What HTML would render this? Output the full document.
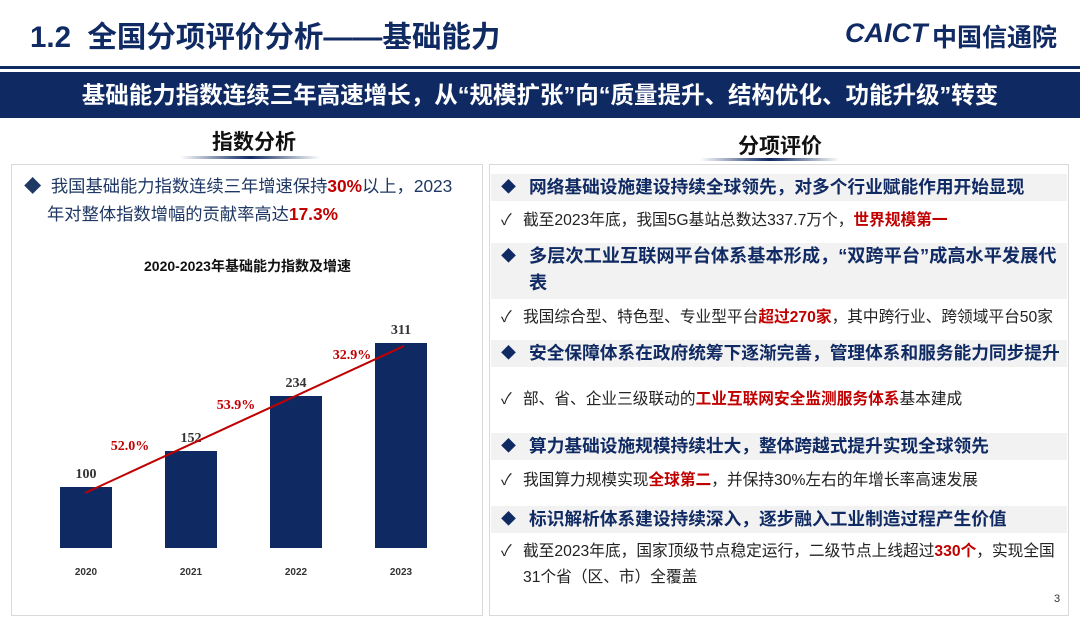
<!DOCTYPE html>
<html><head><meta charset="utf-8"><style>
*{margin:0;padding:0;box-sizing:border-box}
body{width:1080px;height:625px;background:#fff;position:relative;overflow:hidden;font-family:"Liberation Sans","Noto Sans CJK SC",sans-serif;color:#1f2d5a}
.a{position:absolute;white-space:nowrap}
.r{color:#c00000;font-weight:bold}
.h{position:absolute;left:491px;width:576px;background:#f2f2f2;font-weight:bold;font-size:17.7px;color:#102a63;padding-left:38px;line-height:27px;white-space:nowrap;overflow:hidden}
.h:before{content:"◆";position:absolute;left:10px;top:0;font-size:15px}
.c{position:absolute;left:491px;width:576px;font-size:15.7px;color:#222;padding-left:32px;line-height:26px;white-space:nowrap}
.c:before{content:"✓";position:absolute;left:10px;top:0}
</style></head><body>
<div class="a" style="left:30px;top:14px;font-size:29.5px;font-weight:bold;color:#102a63">1.2&nbsp; 全国分项评价分析——基础能力</div>
<div class="a" style="left:845px;top:18px;font-size:27px;font-weight:bold;font-style:italic;color:#102a63">CAICT</div>
<div class="a" style="left:932px;top:18px;font-size:25px;font-weight:bold;color:#102a63">中国信通院</div>
<div class="a" style="left:0;top:66px;width:1080px;height:3px;background:#102a63"></div>
<div class="a" style="left:0;top:72px;width:1080px;height:46px;background:#0f2a63;color:#fff;font-size:23.5px;font-weight:bold;text-align:center;line-height:46px">基础能力指数连续三年高速增长，从“规模扩张”向“质量提升、结构优化、功能升级”转变</div>
<div class="a" style="left:212px;top:126px;font-size:21px;font-weight:bold;color:#111">指数分析</div>
<div class="a" style="left:180px;top:156px;width:140px;height:3px;background:linear-gradient(90deg,#fff,#102a63,#fff)"></div>
<div class="a" style="left:738px;top:130px;font-size:21px;font-weight:bold;color:#111">分项评价</div>
<div class="a" style="left:700px;top:158px;width:140px;height:3px;background:linear-gradient(90deg,#fff,#102a63,#fff)"></div>
<div class="a" style="left:11px;top:164px;width:472px;height:452px;border:1px solid #d9d9d9"></div>
<div class="a" style="left:489px;top:164px;width:580px;height:452px;border:1px solid #d9d9d9"></div>
<div class="a" style="left:24px;top:172px;font-size:17.3px;line-height:28px;color:#1f3864;white-space:nowrap">◆&nbsp; 我国基础能力指数连续三年增速保持<span class="r">30%</span>以上，2023<br><span style="padding-left:23px">年对整体指数增幅的贡献率高达<span class="r">17.3%</span></span></div>
<div class="a" style="left:0;width:495px;top:256px;text-align:center;font-size:14px;font-weight:bold;color:#111">2020-2023年基础能力指数及增速</div>
<svg class="a" style="left:0;top:0" width="495" height="625">
<g fill="#0f2a63"><rect x="60" y="487" width="52" height="61"/><rect x="165" y="451" width="52" height="97"/><rect x="270" y="396" width="52" height="152"/><rect x="375" y="343" width="52" height="205"/></g>
<g font-family="Liberation Serif" font-size="14" font-weight="bold" fill="#333" text-anchor="middle"><text x="86" y="478">100</text><text x="191" y="442">152</text><text x="296" y="387">234</text><text x="401" y="334">311</text></g>
<g font-family="Liberation Serif" font-size="14" font-weight="bold" fill="#c00000" text-anchor="middle"><text x="130" y="450">52.0%</text><text x="236" y="409">53.9%</text><text x="352" y="359">32.9%</text></g>
<line x1="85" y1="493" x2="404" y2="346" stroke="#c00000" stroke-width="2"/>
<g font-size="10" font-weight="bold" fill="#333" text-anchor="middle"><text x="86" y="575">2020</text><text x="191" y="575">2021</text><text x="296" y="575">2022</text><text x="401" y="575">2023</text></g>
</svg>
<div class="h" style="top:174px">网络基础设施建设持续全球领先，对多个行业赋能作用开始显现</div>
<div class="c" style="top:208px">截至2023年底，我国5G基站总数达337.7万个，<span class="r">世界规模第一</span></div>
<div class="h" style="top:243px;height:56px;font-size:18.2px">多层次工业互联网平台体系基本形成，“双跨平台”成高水平发展代<br>表</div>
<div class="c" style="top:305px">我国综合型、特色型、专业型平台<span class="r">超过270家</span>，其中跨行业、跨领域平台50家</div>
<div class="h" style="top:340px">安全保障体系在政府统筹下逐渐完善，管理体系和服务能力同步提升</div>
<div class="c" style="top:387px">部、省、企业三级联动的<span class="r">工业互联网安全监测服务体系</span>基本建成</div>
<div class="h" style="top:433px">算力基础设施规模持续壮大，整体跨越式提升实现全球领先</div>
<div class="c" style="top:468px">我国算力规模实现<span class="r">全球第二</span>，并保持30%左右的年增长率高速发展</div>
<div class="h" style="top:506px">标识解析体系建设持续深入，逐步融入工业制造过程产生价值</div>
<div class="c" style="top:539px">截至2023年底，国家顶级节点稳定运行，二级节点上线超过<span class="r">330个</span>，实现全国<br>31个省（区、市）全覆盖</div>
<div class="a" style="left:1054px;top:593px;font-size:11px;color:#333">3</div>
</body></html>
